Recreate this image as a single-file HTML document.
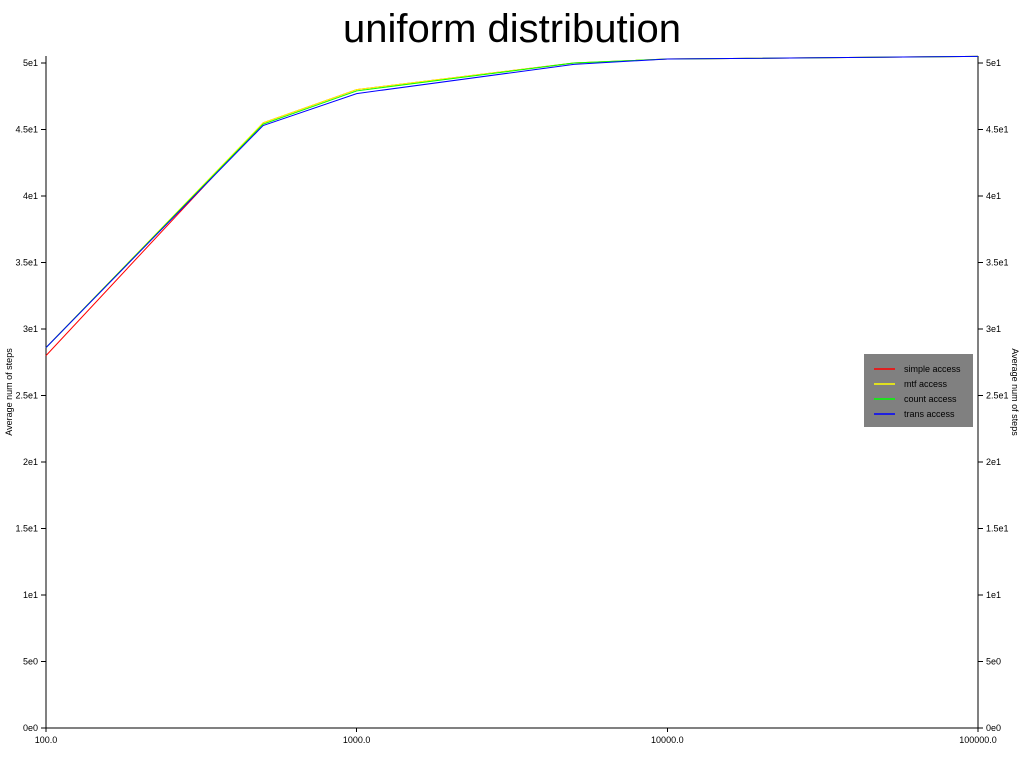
<!DOCTYPE html>
<html><head><meta charset="utf-8"><style>
body{margin:0;background:#fff;}
svg text{font-family:"Liberation Sans",sans-serif;}
</style></head><body>
<svg id="c" width="1024" height="768" xmlns="http://www.w3.org/2000/svg">
<text x="512" y="42" text-anchor="middle" font-size="40">uniform distribution</text>
<g id="axes" shape-rendering="crispEdges"></g><g id="lines"></g>
<g>
<rect x="864" y="354" width="109" height="73" fill="#808080"/>
<g id="leg"></g>
</g>
<text transform="translate(12,392) rotate(-90)" text-anchor="middle" font-size="9">Average num of steps</text>
<text transform="translate(1012,392) rotate(90)" text-anchor="middle" font-size="9">Average num of steps</text>
</svg>
<script>
const xs=[100,500,1000,5000,10000,100000];
const names=["simple access","mtf access","count access","trans access"];
const colors=["#ff0000","#ffff00","#00ff00","#0000ff"];
const simple=[28.0,45.5,48.0,50.0,50.3,50.5];
const mtf=[28.6,45.5,48.0,50.0,50.3,50.5];
const count=[28.6,45.4,47.9,50.0,50.3,50.5];
const trans=[28.6,45.3,47.7,49.9,50.3,50.5];
const series=[simple,mtf,count,trans];
const yTicks=[0,5,10,15,20,25,30,35,40,45,50];
const yLabels=["0e0","5e0","1e1","1.5e1","2e1","2.5e1","3e1","3.5e1","4e1","4.5e1","5e1"];
const xTicks=[100,1000,10000,100000];
const xLabels=["100.0","1000.0","10000.0","100000.0"];
const L=46,R=978,B=728,T=63;
const X=v=>L+(Math.log10(v)-2)/3*(R-L);
const Y=v=>B-v/50*(B-T);
const NS="http://www.w3.org/2000/svg";
function mk(t,a,p){const e=document.createElementNS(NS,t);for(const k in a)e.setAttribute(k,a[k]);p.appendChild(e);return e;}
const ax=document.getElementById('axes');
const l1=mk('line',{x1:L,y1:56,x2:L,y2:B,stroke:'#000'},ax);


const l2=mk('line',{x1:R,y1:56,x2:R,y2:B,stroke:'#000'},ax);


const l3=mk('line',{x1:L,y1:B,x2:R,y2:B,stroke:'#000'},ax);


yTicks.forEach((v,i)=>{const y=Y(v);
mk('line',{x1:L-5,y1:y,x2:L,y2:y,stroke:'#000'},ax);
mk('line',{x1:R,y1:y,x2:R+5,y2:y,stroke:'#000'},ax);
const t=mk('text',{x:L-8,y:y+3,'text-anchor':'end','font-size':9},ax);t.textContent=yLabels[i];


const t2=mk('text',{x:R+8,y:y+3,'font-size':9},ax);t2.textContent=yLabels[i];

});
xTicks.forEach((v,i)=>{const x=X(v);
mk('line',{x1:x,y1:B,x2:x,y2:B+4,stroke:'#000'},ax);
const t=mk('text',{x:x,y:B+15,'text-anchor':'middle','font-size':9},ax);t.textContent=xLabels[i];

});
const lg=document.getElementById('lines');
series.forEach((s,i)=>{const p=mk('polyline',{points:s.map((v,j)=>X(xs[j])+','+Y(v)).join(' '),fill:'none',stroke:colors[i],'stroke-width':1},lg);

});
const leg=document.getElementById('leg');
names.forEach((n,i)=>{const y=369+i*15;
mk('line',{x1:874,y1:y,x2:895,y2:y,stroke:colors[i],'stroke-width':1.5},leg);
const t=mk('text',{x:904,y:y+3,'font-size':9},leg);t.textContent=n;

});
</script>
</body></html>
